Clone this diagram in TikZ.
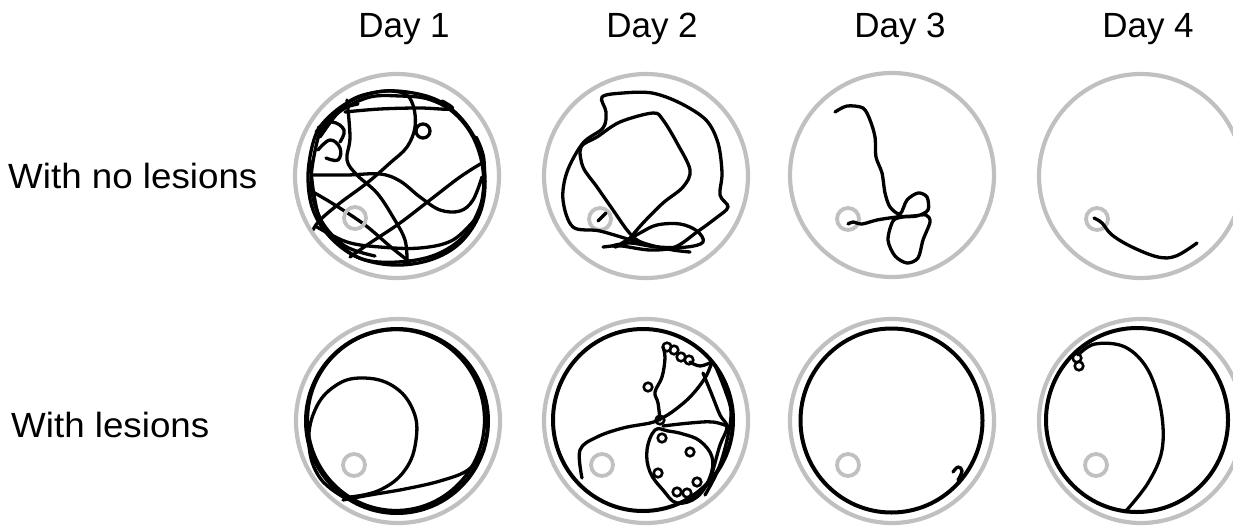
\documentclass[tikz,border=0pt]{standalone}
\usepackage{fontspec}
\setmainfont{Liberation Sans}
\definecolor{arenagray}{RGB}{192,192,192}
\tikzset{
  arena/.style={draw=arenagray, line width=4.2pt},
  startzone/.style={draw=arenagray, line width=3.8pt},
  track/.style={draw=black, line width=3.3pt, line cap=round, line join=round},
  rim/.style={draw=black, line width=4pt},
  knot/.style={draw=black, line width=2.6pt},
  lbl/.style={font=\fontsize{35}{40}\selectfont, inner sep=0pt}
}
\begin{document}
\begin{tikzpicture}[x=1pt,y=-1pt]
\useasboundingbox (0,0) rectangle (1233,525);
% headers
\node[lbl, anchor=base] (d1) at (404,37) {Day 1};
\node[lbl, anchor=base] (d2) at (652,37) {Day 2};
\node[lbl, anchor=base] (d3) at (900,37) {Day 3};
\node[lbl, anchor=base] (d4) at (1148,37) {Day 4};
\node[lbl, anchor=base west, xscale=1.05] (r1) at (8,188) {With no lesions};
\node[lbl, anchor=base west, xscale=1.05] (r2) at (11,437) {With lesions};

% ---------- row 1 ----------
% Day 1
\draw[track] plot[smooth cycle, tension=0.6] coordinates {(313,143) (308,177) (313,210) (330,237) (357,257) (393,265) (430,260) (460,243) (480,213) (485,177) (477,143) (460,117) (437,100) (407,92) (377,92) (347,103) (323,123)};
\draw[track] plot[smooth cycle, tension=0.6] coordinates {(318,138) (311,182) (319,216) (336,241) (362,259) (398,262) (435,255) (464,236) (481,206) (483,170) (473,137) (453,112) (428,99) (400,96) (370,97) (342,110) (326,126)};
\draw[track] plot[smooth, tension=0.6] coordinates {(310,160) (314,195) (322,222) (345,246) (375,256)};
\draw[track] plot[smooth, tension=0.6] coordinates {(316,132) (330,118) (344,108) (358,104)};
\draw[track] plot[smooth, tension=0.6] coordinates {(345,112) (380,109) (420,108) (452,109) (442,101)};
\draw[track] plot[smooth, tension=0.6] coordinates {(320,137) (347,103) (377,92) (403,93) (413,105) (415,127) (407,147) (390,163) (367,183) (340,203) (320,220) (313,230)};
\draw[track] (423,131) circle[radius=7];
\draw[track] plot[smooth, tension=0.6] coordinates {(312,175) (347,175) (380,174) (400,181) (420,197) (440,210) (460,211) (473,200) (482,177)};
\draw[track] plot[smooth, tension=0.6] coordinates {(482,163) (460,177) (430,200) (400,223) (370,243) (350,257)};
\draw[track] plot[smooth, tension=0.6] coordinates {(347,100) (350,137) (347,160) (357,175) (377,193) (393,217) (405,240) (407,262)};
\draw[track] plot[smooth, tension=0.6] coordinates {(313,192) (335,205) (365,225) (392,248) (410,262)};
\draw[track] plot[smooth, tension=0.6] coordinates {(317,227) (347,242) (380,247) (420,248) (453,240) (477,217)};
\draw[track] plot[smooth, tension=0.7] coordinates {(318,150) (330,140) (340,148) (338,160) (326,158)};
\draw[track] plot[smooth, tension=0.7] coordinates {(318,128) (332,122) (344,130) (340,142)};
\draw[track] plot[smooth, tension=0.6] coordinates {(476,137) (484,160) (482,200) (470,228)};
\draw[startzone] (355,218) circle[radius=11];
\draw[arena] (397,176) circle[radius=102];

% Day 2
\draw[startzone] (600,219) circle[radius=11];
\draw[track] (598,221) -- (606,213);
\draw[track] plot[smooth, tension=0.55] coordinates {(637,242) (600,231) (573,227) (563,200) (567,172) (583,143) (603,128) (606,112) (602,97) (623,93) (652,93) (680,103) (706,120) (718,143) (722,173) (720,195) (728,207) (716,218) (697,232) (675,247) (650,250) (622,246) (615,247)};
\draw[track] plot[smooth, tension=0.55] coordinates {(603,247) (623,244) (630,238) (643,223) (663,203) (683,187) (690,170) (677,143) (663,120) (653,113) (620,122) (597,137) (581,147) (583,167) (597,187) (613,210) (627,230) (637,240) (650,245) (673,250) (690,252)};
\draw[track] plot[smooth, tension=0.6] coordinates {(615,247) (640,233) (657,225) (680,224) (697,231) (703,242) (687,247) (657,247) (630,243) (612,246)};
\draw[arena] (646,176) circle[radius=102];

% Day 3
\draw[startzone] (848,219) circle[radius=11];
\draw[track] plot[smooth, tension=0.5] coordinates {(835,112) (847,106) (863,108) (870,120) (875,137) (876,157) (882,173) (885,193) (890,207) (900,214) (907,200) (918,193) (927,197) (928,210) (917,216) (903,217) (893,221) (888,240) (895,256) (907,263) (918,258) (923,240) (930,222) (926,215) (913,216) (897,217) (877,220) (862,224) (853,222) (848,224)};
\draw[arena] (892,175) circle[radius=102];

% Day 4
\draw[startzone] (1097,219) circle[radius=11];
\draw[track] plot[smooth, tension=0.6] coordinates {(1094,218) (1102,223) (1112,235) (1132,247) (1158,257) (1176,256) (1197,243)};
\draw[arena] (1141,176) circle[radius=102];

% ---------- row 2 ----------
% Day 1
\draw[startzone] (354,465) circle[radius=11];
\draw[rim] (397,421) ellipse[x radius=91, y radius=92];
\draw[track] (396,420) ellipse[x radius=88.5, y radius=90.5];
\draw[track] plot[smooth, tension=0.7] coordinates {(345,498) (320,478) (309,445) (315,410) (335,386) (362,378) (393,386) (413,410) (416,440) (405,470) (380,490) (350,497)};
\draw[track] plot[smooth, tension=0.6] coordinates {(343,500) (370,495) (405,489) (440,481) (468,470) (484,450)};
\draw[arena] (398,421) circle[radius=102];

% Day 2
\draw[startzone] (602,465) circle[radius=11];
\draw[rim] (643,420) ellipse[x radius=90, y radius=91];
\draw[track] plot[smooth, tension=0.6] coordinates {(582,478) (580,450) (597,437) (623,428) (650,423) (660,419) (672,412) (690,397) (705,378) (712,362)};
\draw[track] plot[smooth, tension=0.6] coordinates {(660,420) (658,403) (655,392) (662,377) (665,358) (663,347)};
\draw[track] plot[smooth, tension=0.6] coordinates {(663,426) (690,423) (713,422) (730,427)};
\draw[track] plot[smooth cycle, tension=0.65] coordinates {(655,430) (647,450) (650,472) (663,490) (677,503) (697,497) (710,477) (712,457) (700,441) (683,434) (668,431)};
\draw[track] plot[smooth, tension=0.6] coordinates {(703,373) (712,395) (720,415) (727,427) (720,445) (713,470) (708,485)};
\draw[track] plot[smooth, tension=0.6] coordinates {(715,365) (725,390) (731,412) (727,440) (718,470) (705,495)};
\draw[track] plot[smooth, tension=0.6] coordinates {(690,362) (700,366) (712,362)};
\foreach \p in {(667,347),(674,350),(681,357),(689,360),(648,387),(662,438),(690,452),(658,473),(677,492),(687,493),(697,482),(660,420)}
  \draw[knot] \p circle[radius=4.3];
\draw[arena] (646,421) circle[radius=102];

% Day 3
\draw[startzone] (848,465) circle[radius=11];
\draw[rim] (891.5,420.5) ellipse[x radius=91, y radius=92];
\draw[track] plot[smooth, tension=0.7] coordinates {(953,472) (958,467) (962,471) (958,480)};
\draw[arena] (892,421) circle[radius=102];

% Day 4
\draw[startzone] (1096,465) circle[radius=11];
\draw[rim] (1137,420) ellipse[x radius=91, y radius=92];
\draw[track] plot[smooth, tension=0.6] coordinates {(1078,355) (1095,344) (1125,347) (1148,370) (1161,410) (1162,450) (1148,483) (1125,512)};
\draw[knot] (1077,358) circle[radius=4.3];
\draw[knot] (1079,366) circle[radius=4.3];
\draw[arena] (1141,421) circle[radius=102];
\end{tikzpicture}
\end{document}
